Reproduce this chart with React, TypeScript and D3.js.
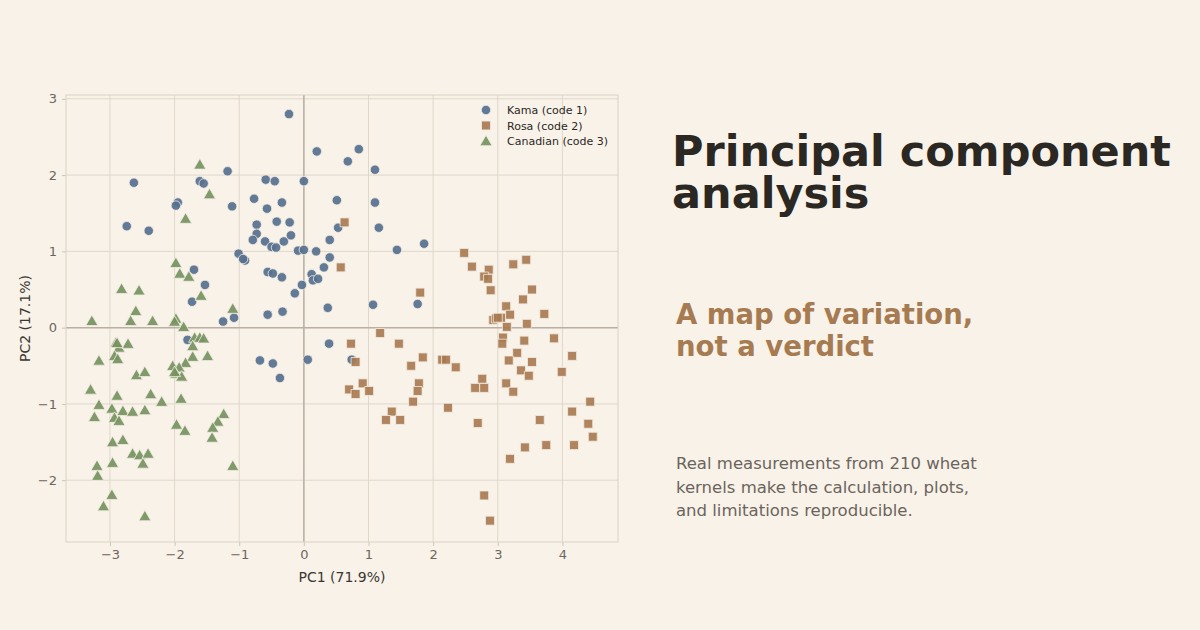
import React, { useRef, useEffect } from 'react';
import * as d3 from 'd3';

// PC scores, [PC1, PC2]
const kama: [number, number][] = [
    [-0.23, 2.80], [0.20, 2.31], [0.85, 2.34], [0.68, 2.18], [1.10, 2.07],
    [-1.18, 2.05], [-2.63, 1.90], [-1.61, 1.92], [-1.55, 1.89], [-0.59, 1.94],
    [-0.45, 1.92], [0.00, 1.92], [-0.77, 1.69], [0.51, 1.67], [-0.34, 1.64],
    [-1.95, 1.64], [-1.98, 1.60], [-1.11, 1.59], [-0.57, 1.56], [1.10, 1.64],
    [-2.74, 1.33], [-2.40, 1.27], [-0.73, 1.35], [-0.42, 1.39], [-0.22, 1.38],
    [0.53, 1.31], [1.16, 1.31], [-0.73, 1.23], [-0.79, 1.15], [-0.60, 1.13],
    [-0.50, 1.06], [-0.43, 1.05], [-0.31, 1.13], [-0.20, 1.21], [0.40, 1.15],
    [-0.09, 1.01], [0.00, 1.02], [0.19, 1.00], [1.44, 1.02], [1.86, 1.10],
    [-1.01, 0.97], [-0.91, 0.88], [0.40, 0.92], [0.31, 0.79], [-1.70, 0.76],
    [-0.56, 0.73], [-0.48, 0.71], [-0.34, 0.66], [0.12, 0.70], [0.14, 0.62],
    [0.22, 0.64], [-0.03, 0.56], [-1.53, 0.56], [-0.14, 0.45], [-1.73, 0.34],
    [0.37, 0.26], [1.07, 0.30], [1.76, 0.31], [-1.25, 0.08], [-1.08, 0.13],
    [-0.56, 0.17], [-0.33, 0.21], [-1.80, -0.16], [0.39, -0.21], [-0.68, -0.43],
    [-0.48, -0.47], [-0.37, -0.66], [0.06, -0.42], [0.74, -0.42], [-0.94, 0.90],
];

const rosa: [number, number][] = [
    [0.63, 1.38], [0.57, 0.79], [1.80, 0.46], [2.48, 0.98], [2.60, 0.80],
    [2.86, 0.76], [2.79, 0.67], [2.85, 0.64], [2.89, 0.49], [3.24, 0.83],
    [3.44, 0.89], [3.53, 0.50], [3.39, 0.37], [3.13, 0.28], [3.72, 0.18],
    [2.93, 0.10], [2.97, 0.12], [3.05, 0.13], [3.19, 0.17], [3.14, 0.01],
    [3.45, 0.05], [1.18, -0.07], [3.08, -0.13], [3.07, -0.21], [3.41, -0.17],
    [3.87, -0.14], [0.73, -0.21], [1.47, -0.21], [0.80, -0.45], [1.84, -0.39],
    [1.66, -0.50], [2.14, -0.42], [2.20, -0.42], [2.35, -0.52], [3.30, -0.33],
    [3.17, -0.43], [3.53, -0.45], [4.15, -0.37], [3.36, -0.56], [3.48, -0.63],
    [3.99, -0.58], [0.91, -0.73], [0.70, -0.81], [0.80, -0.87], [1.01, -0.83],
    [1.78, -0.73], [1.76, -0.83], [1.69, -0.97], [1.36, -1.10], [1.27, -1.21],
    [1.49, -1.21], [2.23, -1.05], [2.76, -0.67], [2.65, -0.79], [2.79, -0.79],
    [2.69, -1.25], [3.13, -0.73], [3.24, -0.84], [3.65, -1.21], [4.15, -1.10],
    [4.43, -0.97], [4.40, -1.26], [4.47, -1.43], [3.42, -1.57], [3.75, -1.54],
    [4.18, -1.54], [3.19, -1.72], [2.79, -2.20], [2.88, -2.53], [3.00, 0.13],
];

const canadian: [number, number][] = [
    [-1.61, 2.14], [-1.46, 1.75], [-1.83, 1.43], [-1.98, 0.85], [-1.92, 0.71],
    [-1.78, 0.67], [-1.59, 0.42], [-2.82, 0.51], [-2.55, 0.49], [-2.60, 0.22],
    [-1.10, 0.25], [-3.28, 0.09], [-2.68, 0.09], [-2.34, 0.09], [-1.98, 0.12],
    [-2.00, 0.08], [-1.86, 0.01], [-1.69, -0.13], [-1.61, -0.13], [-1.55, -0.14],
    [-1.72, -0.24], [-2.91, -0.20], [-2.86, -0.26], [-2.72, -0.21], [-3.17, -0.43],
    [-2.93, -0.37], [-2.88, -0.41], [-1.49, -0.37], [-1.72, -0.38], [-1.83, -0.46],
    [-2.03, -0.50], [-1.93, -0.52], [-1.98, -0.60], [-1.89, -0.64], [-2.59, -0.62],
    [-2.46, -0.58], [-3.30, -0.81], [-2.89, -0.89], [-2.37, -0.87], [-2.20, -0.97],
    [-1.90, -0.93], [-3.17, -1.01], [-2.97, -1.06], [-2.80, -1.09], [-2.65, -1.10],
    [-2.46, -1.08], [-2.93, -1.18], [-2.86, -1.22], [-3.24, -1.17], [-1.97, -1.27],
    [-1.84, -1.35], [-1.24, -1.13], [-1.33, -1.23], [-1.41, -1.31], [-1.42, -1.44],
    [-2.96, -1.50], [-2.80, -1.47], [-2.65, -1.65], [-2.54, -1.67], [-2.41, -1.65],
    [-2.49, -1.78], [-2.96, -1.77], [-3.20, -1.81], [-3.19, -1.94], [-1.10, -1.81],
    [-2.97, -2.19], [-3.10, -2.34], [-2.46, -2.47], [-2.89, -0.20], [-2.00, -0.58],
];

const seriesNames = ['Kama (code 1)', 'Rosa (code 2)', 'Canadian (code 3)'];
const xTicks = [-3, -2, -1, 0, 1, 2, 3, 4];
const yTicks = [-2, -1, 0, 1, 2, 3];

const titleLines = ['Principal component', 'analysis'];
const subtitleLines = ['A map of variation,', 'not a verdict'];
const bodyLines = [
    'Real measurements from 210 wheat',
    'kernels make the calculation, plots,',
    'and limitations reproducible.',
];

const BG = '#f8f2e9';
const FONT = '"DejaVu Sans", Verdana, sans-serif';

const App: React.FC = () => {
    const ref = useRef<SVGSVGElement | null>(null);

    useEffect(() => {
        if (!ref.current) return;
        document.body.style.margin = '0';
        document.body.style.background = BG;

        const svg = d3.select(ref.current);
        svg.selectAll('*').remove();

        const width = 1200;
        const height = 630;
        const plot = { left: 66, right: 618, top: 95, bottom: 542 };

        svg.attr('width', width).attr('height', height);
        svg.append('rect').attr('width', width).attr('height', height).attr('fill', BG);

        const x = d3.scaleLinear().domain([-3.68, 4.86]).range([plot.left, plot.right]);
        const y = d3.scaleLinear().domain([-2.81, 3.05]).range([plot.bottom, plot.top]);
        const intFmt = d3.format('d');

        // ─── grid ──────────────────────────────────────────────────────────
        const grid = svg.append('g');
        grid.selectAll('line.gx')
            .data(xTicks)
            .enter()
            .append('line')
            .attr('x1', d => x(d)).attr('x2', d => x(d))
            .attr('y1', plot.top).attr('y2', plot.bottom)
            .attr('stroke', '#e0d7ca').attr('stroke-width', 1);
        grid.selectAll('line.gy')
            .data(yTicks)
            .enter()
            .append('line')
            .attr('y1', d => y(d)).attr('y2', d => y(d))
            .attr('x1', plot.left).attr('x2', plot.right)
            .attr('stroke', '#e0d7ca').attr('stroke-width', 1);

        // zero lines
        grid.append('line')
            .attr('x1', x(0)).attr('x2', x(0))
            .attr('y1', plot.top).attr('y2', plot.bottom)
            .attr('stroke', '#b9afa2').attr('stroke-width', 1.5);
        grid.append('line')
            .attr('y1', y(0)).attr('y2', y(0))
            .attr('x1', plot.left).attr('x2', plot.right)
            .attr('stroke', '#b9afa2').attr('stroke-width', 1.5);

        // ─── axes ──────────────────────────────────────────────────────────
        const xAxis = svg.append('g')
            .attr('transform', `translate(0,${plot.bottom})`)
            .call(d3.axisBottom(x).tickValues(xTicks).tickFormat(d => intFmt(d as number))
                .tickSizeOuter(0).tickSize(4).tickPadding(4));
        const yAxis = svg.append('g')
            .attr('transform', `translate(${plot.left},0)`)
            .call(d3.axisLeft(y).tickValues(yTicks).tickFormat(d => intFmt(d as number))
                .tickSizeOuter(0).tickSize(4).tickPadding(5));

        [xAxis, yAxis].forEach(a => {
            a.select('.domain').remove();
            a.selectAll('line').attr('stroke', '#cfc5b7');
            a.selectAll('text')
                .attr('fill', '#6e665d')
                .style('font-size', '13px')
                .style('font-family', FONT);
        });

        svg.append('rect')
            .attr('x', plot.left).attr('y', plot.top)
            .attr('width', plot.right - plot.left)
            .attr('height', plot.bottom - plot.top)
            .attr('fill', 'none')
            .attr('stroke', '#dcd2c4').attr('stroke-width', 1);

        svg.append('text')
            .attr('x', (plot.left + plot.right) / 2)
            .attr('y', 582)
            .attr('text-anchor', 'middle')
            .style('font-size', '14px')
            .style('font-family', FONT)
            .attr('fill', '#3b3731')
            .text('PC1 (71.9%)');

        svg.append('text')
            .attr('transform', `translate(30,${(plot.top + plot.bottom) / 2}) rotate(-90)`)
            .attr('text-anchor', 'middle')
            .style('font-size', '14px')
            .style('font-family', FONT)
            .attr('fill', '#3b3731')
            .text('PC2 (17.1%)');

        // ─── markers ───────────────────────────────────────────────────────
        const colours = ['#56708f', '#a87b51', '#76935f'];
        const symbols = [d3.symbolCircle, d3.symbolSquare, d3.symbolTriangle];
        const sizes = [70, 80, 64];
        const groups = [kama, rosa, canadian];

        const marks = svg.append('g');
        groups.forEach((pts, i) => {
            const sym = d3.symbol().type(symbols[i]).size(sizes[i]);
            // d3 triangle is centred on its centroid; shift to bbox centre like matplotlib
            const dy = i === 2 ? 1.2 : 0;
            marks.append('g')
                .selectAll('path')
                .data(pts)
                .enter()
                .append('path')
                .attr('d', sym() as string)
                .attr('transform', d => `translate(${x(d[0])},${y(d[1]) + dy})`)
                .attr('fill', colours[i])
                .attr('fill-opacity', 0.92)
                .attr('stroke', '#f4ede2')
                .attr('stroke-width', 0.8);
        });

        // ─── legend ────────────────────────────────────────────────────────
        const legend = svg.append('g').attr('transform', 'translate(486,110)');
        seriesNames.forEach((name, i) => {
            const row = legend.append('g').attr('transform', `translate(0,${i * 15.5})`);
            row.append('path')
                .attr('d', d3.symbol().type(symbols[i]).size(sizes[i])() as string)
                .attr('transform', `translate(0,${i === 2 ? 1.2 : 0})`)
                .attr('fill', colours[i])
                .attr('fill-opacity', 0.92)
                .attr('stroke', '#f4ede2')
                .attr('stroke-width', 0.8);
            row.append('text')
                .attr('x', 21)
                .attr('y', 4)
                .style('font-size', '11px')
                .style('font-family', FONT)
                .attr('fill', '#2b2823')
                .text(name);
        });

        // ─── side text ─────────────────────────────────────────────────────
        const side = svg.append('g').attr('transform', 'translate(672,0)');
        titleLines.forEach((t, i) => {
            side.append('text')
                .attr('x', 0).attr('y', 166 + i * 42)
                .style('font-size', '43px')
                .style('font-weight', 700)
                .style('font-family', FONT)
                .attr('fill', '#2b2823')
                .text(t);
        });
        subtitleLines.forEach((t, i) => {
            side.append('text')
                .attr('x', 4).attr('y', 324 + i * 32)
                .style('font-size', '27.5px')
                .style('font-weight', 700)
                .style('font-family', FONT)
                .attr('fill', '#a67b51')
                .text(t);
        });
        bodyLines.forEach((t, i) => {
            side.append('text')
                .attr('x', 4).attr('y', 469 + i * 23.5)
                .style('font-size', '16.5px')
                .style('font-family', FONT)
                .attr('fill', '#6b645c')
                .text(t);
        });
    }, []);

    return <svg ref={ref} style={{ display: 'block' }} />;
};

export default App;
